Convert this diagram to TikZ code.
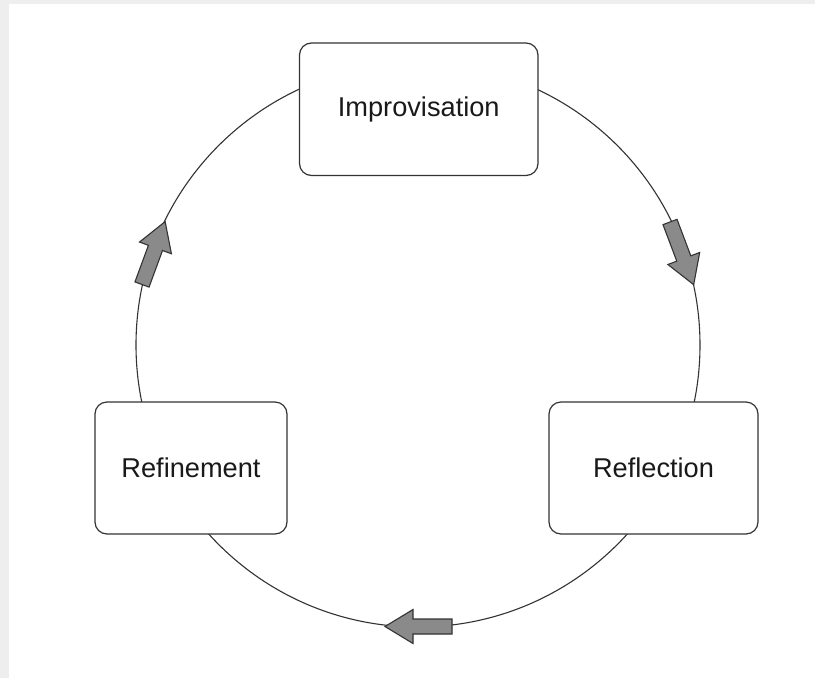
\documentclass[tikz,border=0pt]{standalone}
\usepackage{fontspec}
\setmainfont{Liberation Sans}[Ligatures=NoCommon]
\definecolor{stroke}{HTML}{333333}
\definecolor{arrowfill}{HTML}{8A8A8A}
\definecolor{bggray}{HTML}{EEEEEE}
\tikzset{
  stagebox/.style={draw=stroke, line width=1.2pt, fill=white, rounded corners=12pt,
    inner sep=0pt, font=\fontsize{27.2}{30}\selectfont, text=black!90},
  cycleline/.style={draw=stroke, line width=1.1pt},
  fatarrow/.style={draw=stroke, line width=1.1pt, fill=arrowfill, line join=miter}
}
\newcommand{\fatarrowshape}{%
  \path[fatarrow] (0,-7.5) -- (39,-7.5) -- (39,-17) -- (67,0) -- (39,17) -- (39,7.5) -- (0,7.5) -- cycle;}
\begin{document}
\begin{tikzpicture}[x=1pt,y=-1pt]
  \useasboundingbox (0,0) rectangle (815,678);
  \fill[bggray] (0,0) rectangle (815,678);
  \fill[white] (9,4) rectangle (815,678);
  \coordinate (c) at (418,345);
  \draw[cycleline] (c) circle[radius=282];
  \node[stagebox, minimum width=238.5pt, minimum height=132.5pt] (impro) at (418.75,109.25) {Improvisation};
  \node[stagebox, minimum width=192pt, minimum height=132pt] (refin) at (191,468) {Refinement};
  \node[stagebox, minimum width=209pt, minimum height=132pt] (refl) at (653.5,468) {Reflection};
  \begin{scope}[shift={(142,284.5)}, rotate=69.8]\fatarrowshape\end{scope}
  \begin{scope}[shift={(670,222)}, rotate=-69.3]\fatarrowshape\end{scope}
  \begin{scope}[shift={(452,626.5)}, rotate=180]\fatarrowshape\end{scope}
\end{tikzpicture}
\end{document}
